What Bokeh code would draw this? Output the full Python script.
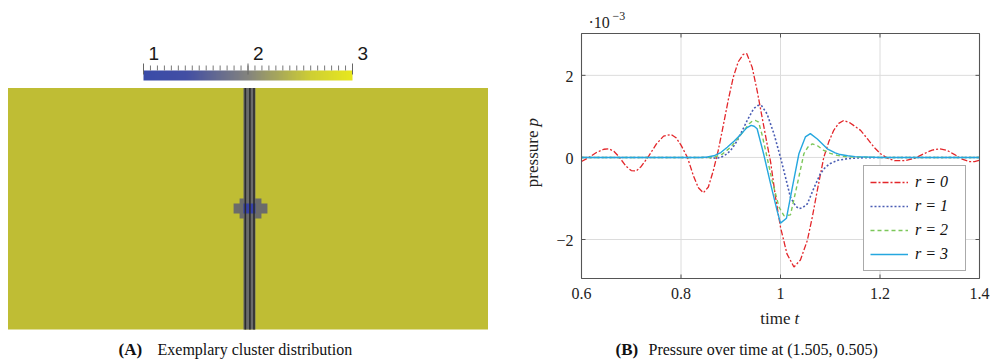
import numpy as np
from bokeh.plotting import figure
from bokeh.models import Range1d, Label, Legend, LegendItem, LinearColorMapper
from bokeh.core.properties import value
from bokeh.layouts import row
from bokeh.embed import file_html
from bokeh.resources import INLINE

SERIF = "Liberation Serif"
SANS = "Liberation Sans"
BL = 5   # baseline correction (px) applied to all text placements

# ---------------- (A) cluster map on the domain [0,2] x [0,1] ----------------
cluster_ids = [3, 2, 2, 2, 1]
cluster_x0 = [0.000, 0.981, 0.940, 0.965, 0.981]
cluster_x1 = [2.000, 1.031, 1.081, 1.056, 1.031]
cluster_y0 = [0.000, 0.000, 0.480, 0.460, 0.480]
cluster_y1 = [1.000, 1.000, 0.522, 0.542, 0.522]
# fracture lines running through the cluster-2 band
fracture_x = [0.989, 1.008, 1.025]
# shaded (lit) surface colours of the three cluster ids
cluster_color = {1: "#3540a8", 2: "#6b6b6b", 3: "#bfbd34"}

# colour bar: value range and tick values
cbar_low, cbar_high = 1, 3
cbar_labels = [1, 2, 3]
cbar_minor = np.linspace(1, 3, 31)

# ---------------- (B) pressure over time (units of 1e-3) ----------------
t_r0 = [0.600, 0.615, 0.630, 0.645, 0.655, 0.665, 0.675, 0.690, 0.700, 0.710,
        0.720, 0.735, 0.750, 0.765, 0.780, 0.790, 0.800, 0.813, 0.825, 0.835,
        0.845, 0.855, 0.865, 0.875, 0.885, 0.895, 0.905, 0.915, 0.925, 0.932,
        0.943, 0.953, 0.963, 0.973, 0.980, 0.990, 1.000, 1.013, 1.027, 1.040,
        1.054, 1.064, 1.074, 1.087, 1.097, 1.107, 1.117, 1.127, 1.140, 1.161,
        1.175, 1.188, 1.201, 1.215, 1.230, 1.250, 1.270, 1.290, 1.305, 1.320,
        1.335, 1.350, 1.365, 1.380, 1.390, 1.400]
p_r0 = [-0.10, 0.00, 0.12, 0.20, 0.21, 0.15, 0.02, -0.22, -0.32, -0.33,
        -0.22, 0.03, 0.32, 0.52, 0.56, 0.48, 0.30, 0.00, -0.45, -0.74,
        -0.86, -0.72, -0.32, 0.18, 0.78, 1.40, 1.95, 2.33, 2.51, 2.53,
        2.20, 1.63, 0.98, 0.33, -0.10, -0.97, -1.70, -2.35, -2.67, -2.50,
        -2.02, -1.45, -0.80, 0.00, 0.38, 0.66, 0.83, 0.90, 0.84, 0.66,
        0.45, 0.25, 0.09, -0.02, -0.08, -0.08, -0.02, 0.10, 0.18, 0.21,
        0.17, 0.07, -0.04, -0.10, -0.10, -0.07]

t_r1 = [0.600, 0.800, 0.850, 0.873, 0.883, 0.893, 0.903, 0.913, 0.923, 0.933,
        0.946, 0.955, 0.962, 0.973, 0.987, 1.000, 1.010, 1.020, 1.030, 1.037,
        1.045, 1.054, 1.067, 1.080, 1.090, 1.100, 1.115, 1.135, 1.160, 1.200, 1.400]
p_r1 = [0.00, 0.00, 0.00, -0.02, 0.02, 0.09, 0.22, 0.41, 0.65, 0.90,
        1.19, 1.27, 1.26, 1.06, 0.57, 0.00, -0.48, -0.97, -1.18, -1.25,
        -1.22, -1.13, -0.75, -0.40, -0.24, -0.15, -0.07, -0.03, -0.01, 0.00, 0.00]

t_r2 = [0.600, 0.840, 0.866, 0.883, 0.900, 0.913, 0.927, 0.937, 0.943, 0.950,
        0.956, 0.963, 0.970, 0.983, 0.997, 1.007, 1.020, 1.034, 1.047, 1.055,
        1.064, 1.075, 1.087, 1.100, 1.114, 1.130, 1.150, 1.200, 1.400]
p_r2 = [0.00, 0.00, 0.00, 0.08, 0.25, 0.44, 0.66, 0.82, 0.88, 0.90,
        0.86, 0.55, 0.17, -0.56, -1.21, -1.42, -1.40, -0.64, 0.09, 0.25,
        0.33, 0.28, 0.17, 0.10, 0.05, 0.02, 0.01, 0.00, 0.00]

t_r3 = [0.600, 0.820, 0.839, 0.853, 0.866, 0.880, 0.893, 0.907, 0.920, 0.932,
        0.941, 0.947, 0.953, 0.966, 0.980, 0.993, 1.000, 1.012, 1.024, 1.037,
        1.050, 1.060, 1.074, 1.094, 1.110, 1.120, 1.135, 1.150, 1.200, 1.400]
p_r3 = [0.00, 0.00, 0.00, 0.01, 0.04, 0.12, 0.25, 0.40, 0.56, 0.72,
        0.78, 0.76, 0.70, 0.09, -0.64, -1.29, -1.60, -1.48, -0.72, 0.09,
        0.50, 0.58, 0.45, 0.21, 0.11, 0.07, 0.04, 0.02, 0.00, 0.00]

series_labels = ["r = 0", "r = 1", "r = 2", "r = 3"]
x_ticks = [0.6, 0.8, 1.0, 1.2, 1.4]
x_tick_labels = ["0.6", "0.8", "1", "1.2", "1.4"]
y_ticks = [-2, 0, 2]
y_tick_labels = ["\u22122", "0", "2"]
T_MIN, T_MAX = 0.6, 1.4
P_MIN, P_MAX = -2.95, 3.02

# ============================ left panel ============================
SX, SY = 240.0, 241.5          # pixels per domain unit
OX, OY = 7.5, 329.0            # pixel position of the domain origin


def lx(px):
    return (px - OX) / SX


def ly(py):
    return (OY - py) / SY


left = figure(width=500, height=360, x_range=Range1d(lx(0), lx(500)),
              y_range=Range1d(ly(360), ly(0)), x_axis_type=None, y_axis_type=None,
              output_backend="svg", toolbar_location=None, min_border=0)
left.outline_line_color = None
left.grid.visible = False

left.quad(left=cluster_x0, right=cluster_x1, bottom=cluster_y0, top=cluster_y1,
          fill_color=[cluster_color[c] for c in cluster_ids], line_color=None)
left.segment(x0=fracture_x, y0=[0] * len(fracture_x), x1=fracture_x, y1=[1] * len(fracture_x),
             line_color="#2c2c2c", line_width=1.6)

# colour bar drawn through a colour mapper
stops_v = [1.0, 1.4, 2.0, 2.6, 3.0]
stops_c = [(58, 76, 168), (66, 78, 164), (132, 132, 126), (206, 206, 52), (232, 232, 30)]
pal = []
for v in np.linspace(1, 3, 256):
    rgb = [int(round(np.interp(v, stops_v, [c[k] for c in stops_c]))) for k in range(3)]
    pal.append("#%02x%02x%02x" % tuple(rgb))
mapper = LinearColorMapper(palette=pal, low=cbar_low, high=cbar_high)
cb_x0, cb_x1 = lx(143), lx(352)
cb_y0, cb_y1 = ly(80), ly(70)
left.image(image=[np.linspace(cbar_low, cbar_high, 256).reshape(1, 256)],
           x=cb_x0, y=cb_y0, dw=cb_x1 - cb_x0, dh=cb_y1 - cb_y0, color_mapper=mapper)


def cbx(v):
    return cb_x0 + (v - cbar_low) / (cbar_high - cbar_low) * (cb_x1 - cb_x0)


mx = [cbx(v) for v in cbar_minor]
left.segment(x0=mx, y0=[cb_y1] * len(mx), x1=mx, y1=[ly(65)] * len(mx),
             line_color="#777777", line_width=1)
Mx = [cbx(v) for v in cbar_labels]
left.segment(x0=Mx, y0=[ly(74)] * len(Mx), x1=Mx, y1=[ly(63)] * len(Mx),
             line_color="#666666", line_width=1)
left.text(x=[m + 5 / SX for m in Mx], y=[ly(58 - BL)] * len(Mx), text=[str(v) for v in cbar_labels],
          text_align="left", text_baseline="alphabetic", text_font=value(SANS),
          text_font_size="19px", text_color="#1a1a1a")

left.add_layout(Label(x=lx(118), y=ly(354 - BL), text="(A)", text_font=SERIF,
                      text_font_style="bold", text_font_size="17px",
                      text_baseline="alphabetic", text_color="#111111"))
left.add_layout(Label(x=lx(157), y=ly(354 - BL), text="Exemplary cluster distribution",
                      text_font=SERIF, text_font_size="16px",
                      text_baseline="alphabetic", text_color="#111111"))

# ============================ right panel ============================
# the plotting frame covers the whole canvas; the axes box sits at
# pixels x 581..979, y 33..278 of the page
FX0, FX1, FY0, FY1 = 581.0, 979.0, 33.0, 278.0
DXP = (T_MAX - T_MIN) / (FX1 - FX0)      # data units per pixel
DYP = (P_MAX - P_MIN) / (FY1 - FY0)


def rx(px):
    return T_MIN + (px - FX0) * DXP


def ry(py):
    return P_MAX - (py - FY0) * DYP


right = figure(width=493, height=360, x_range=Range1d(rx(500), rx(993)),
               y_range=Range1d(ry(360), ry(0)), x_axis_type=None, y_axis_type=None,
               output_backend="svg", toolbar_location=None, min_border=0)
right.outline_line_color = None
right.grid.visible = False

AX = "#555555"
GRID = "#dcdcdc"
xt_in = x_ticks[1:-1]
yt_in = y_ticks
# grid
right.segment(x0=xt_in, y0=[P_MIN] * len(xt_in), x1=xt_in, y1=[P_MAX] * len(xt_in),
              line_color=GRID, line_width=1)
right.segment(x0=[T_MIN] * len(yt_in), y0=yt_in, x1=[T_MAX] * len(yt_in), y1=yt_in,
              line_color=GRID, line_width=1)
# inward ticks on all four sides
tl = 4
right.segment(x0=xt_in, y0=[P_MIN] * len(xt_in), x1=xt_in, y1=[P_MIN + tl * DYP] * len(xt_in),
              line_color=AX, line_width=1)
right.segment(x0=xt_in, y0=[P_MAX] * len(xt_in), x1=xt_in, y1=[P_MAX - tl * DYP] * len(xt_in),
              line_color=AX, line_width=1)
right.segment(x0=[T_MIN] * len(yt_in), y0=yt_in, x1=[T_MIN + tl * DXP] * len(yt_in), y1=yt_in,
              line_color=AX, line_width=1)
right.segment(x0=[T_MAX] * len(yt_in), y0=yt_in, x1=[T_MAX - tl * DXP] * len(yt_in), y1=yt_in,
              line_color=AX, line_width=1)

l0 = right.line(t_r0, p_r0, line_color="#e3262a", line_width=1.3, line_dash="6 2 2 2")
l1 = right.line(t_r1, p_r1, line_color="#4a5db4", line_width=1.6, line_dash="2 2")
l2 = right.line(t_r2, p_r2, line_color="#7cc75a", line_width=1.4, line_dash="4 3")
l3 = right.line(t_r3, p_r3, line_color="#25a7df", line_width=1.4)

# axes box
right.quad(left=[T_MIN], right=[T_MAX], bottom=[P_MIN], top=[P_MAX],
           fill_color=None, line_color=AX, line_width=1.1)

# tick labels
right.text(x=x_ticks, y=[P_MIN - (20 - BL) * DYP] * len(x_ticks), text=x_tick_labels,
           text_align="center", text_baseline="alphabetic", text_font=value(SERIF),
           text_font_size="16px", text_color="#222222")
right.text(x=[T_MIN - 8 * DXP] * len(y_ticks), y=[v - (5 - BL + 1) * DYP for v in y_ticks],
           text=y_tick_labels, text_align="right", text_baseline="alphabetic",
           text_font=value(SERIF), text_font_size="16px", text_color="#222222")

legend = Legend(items=[LegendItem(label=lab, renderers=[r])
                       for lab, r in zip(series_labels, [l0, l1, l2, l3])],
                location=(863 - 500, 360 - 271))
legend.border_line_color = AX
legend.border_line_width = 1
legend.background_fill_alpha = 1.0
legend.padding = 6
legend.spacing = 4
legend.margin = 0
legend.glyph_width = 38
legend.glyph_height = 20
legend.label_height = 20
legend.label_width = 44
legend.label_standoff = 7
legend.label_text_font = SERIF
legend.label_text_font_size = "16px"
legend.label_text_font_style = "italic"
legend.label_text_color = "#111111"
right.add_layout(legend)

# axis titles and exponent note
right.add_layout(Label(x=rx(790), y=ry(323 - BL), text="time", text_align="right",
                       text_baseline="alphabetic", text_font=SERIF, text_font_size="17px",
                       text_color="#222222"))
right.add_layout(Label(x=rx(794), y=ry(323 - BL), text="t", text_align="left",
                       text_baseline="alphabetic", text_font=SERIF, text_font_size="17px",
                       text_font_style="italic", text_color="#222222"))
right.add_layout(Label(x=rx(537 - BL), y=ry(130), text="pressure", angle=np.pi / 2,
                       text_align="right", text_baseline="alphabetic", text_font=SERIF,
                       text_font_size="17px", text_color="#222222"))
right.add_layout(Label(x=rx(537 - BL), y=ry(126), text="p", angle=np.pi / 2,
                       text_align="left", text_baseline="alphabetic", text_font=SERIF,
                       text_font_size="17px", text_font_style="italic", text_color="#222222"))
right.add_layout(Label(x=rx(588), y=ry(26.5 - BL), text="\u00b710", text_align="left",
                       text_baseline="alphabetic", text_font=SERIF, text_font_size="16px",
                       text_color="#222222"))
right.add_layout(Label(x=rx(612), y=ry(20 - BL), text="\u22123", text_align="left",
                       text_baseline="alphabetic", text_font=SERIF, text_font_size="12px",
                       text_color="#222222"))

right.add_layout(Label(x=rx(615), y=ry(354 - BL), text="(B)", text_font=SERIF,
                       text_font_style="bold", text_font_size="17px",
                       text_baseline="alphabetic", text_color="#111111"))
right.add_layout(Label(x=rx(648), y=ry(354 - BL), text="Pressure over time at (1.505, 0.505)",
                       text_font=SERIF, text_font_size="16px",
                       text_baseline="alphabetic", text_color="#111111"))

layout = row(left, right)
open("out.html", "w").write(file_html(layout, INLINE))
